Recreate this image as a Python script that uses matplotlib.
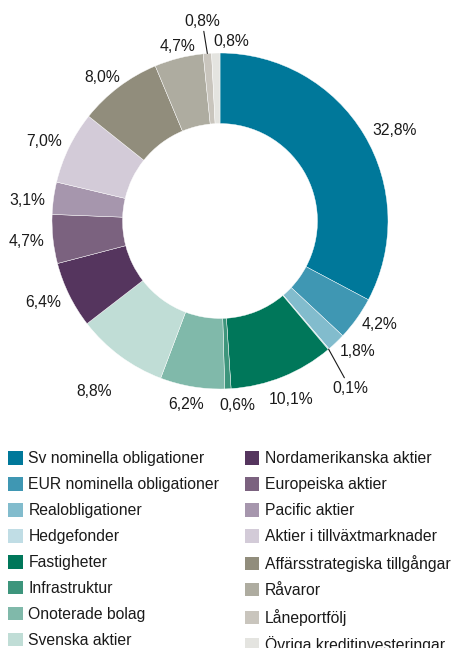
import numpy as np
import matplotlib.pyplot as plt
from matplotlib.patches import Patch

plt.rcParams['font.family'] = ['Liberation Sans', 'DejaVu Sans']

# allocation data (clockwise from 12 o'clock)
categories = ['Sv nominella obligationer', 'EUR nominella obligationer',
              'Realobligationer', 'Hedgefonder', 'Fastigheter', 'Infrastruktur',
              'Onoterade bolag', 'Svenska aktier', 'Nordamerikanska aktier',
              'Europeiska aktier', 'Pacific aktier', 'Aktier i tillväxtmarknader',
              'Affärsstrategiska tillgångar', 'Råvaror', 'Låneportfölj',
              'Övriga kreditinvesteringar']
shares = [32.8, 4.2, 1.8, 0.1, 10.1, 0.6, 6.2, 8.8, 6.4, 4.7, 3.1, 7.0, 8.0, 4.7, 0.8, 0.8]
labels = ['32,8%', '4,2%', '1,8%', '0,1%', '10,1%', '0,6%', '6,2%', '8,8%',
          '6,4%', '4,7%', '3,1%', '7,0%', '8,0%', '4,7%', '0,8%', '0,8%']
colors = ['#00789a', '#3f97b3', '#82bccd', '#c0dde5', '#00775a', '#3d957c',
          '#80b9aa', '#c0ddd6', '#55355e', '#7b627f', '#a696ad', '#d3cbd8',
          '#918d7c', '#aeaca0', '#c9c5bd', '#e4e4e0']

# where each percentage label sits (polar: degrees, radius in pie units)
label_angle = [27.6, -32.8, -43.3, -52.1, -68.3, -84.7, -100.5, -126.4,
               -155.4, -173.8, 173.8, 155.8, 129.5, 103.5, 95.1, 86.5]
label_radius = [1.169, 1.133, 1.129, 1.26, 1.141, 1.10, 1.108, 1.264,
                1.159, 1.156, 1.156, 1.148, 1.104, 1.071, 1.195, 1.073]
leader = [3, 14]  # small slices that get a connector line

fig = plt.figure(figsize=(4.51, 6.48), dpi=100)
ax = fig.add_axes([0, 1 - 440 / 648, 1, 440 / 648])

wedges, _ = ax.pie(shares, colors=colors, startangle=90, counterclock=False,
                   radius=1.0, wedgeprops=dict(width=0.42, edgecolor='white', linewidth=0.3))
ax.set_xlim(-220 / 168, 231 / 168)
ax.set_ylim(-219 / 168, 221 / 168)
ax.set_aspect('auto')
ax.axis('off')

for i, (w, lab) in enumerate(zip(wedges, labels)):
    a = np.radians(label_angle[i])
    pos = (label_radius[i] * np.cos(a), label_radius[i] * np.sin(a))
    if i in leader:
        mid = np.radians((w.theta1 + w.theta2) / 2)
        ax.annotate(lab, xy=(np.cos(mid), np.sin(mid)), xytext=pos,
                    ha='center', va='center', fontsize=11.3, color='#1a1a1a',
                    arrowprops=dict(arrowstyle='-', lw=0.8, color='#1a1a1a',
                                    shrinkA=0, shrinkB=0))
    else:
        ax.text(pos[0], pos[1], lab, ha='center', va='center',
                fontsize=11.3, color='#1a1a1a')

handles = [Patch(facecolor=c, edgecolor='none') for c in colors]
fig.legend(handles, categories, loc='upper left', bbox_to_anchor=(8 / 451, 1 - 451 / 648),
           ncol=2, frameon=False, fontsize=11.3, borderpad=0, borderaxespad=0,
           handlelength=0.95, handleheight=0.95, handletextpad=0.35,
           labelspacing=0.69, columnspacing=1.6, labelcolor='#1a1a1a')

fig.savefig('out.png', dpi=100)
